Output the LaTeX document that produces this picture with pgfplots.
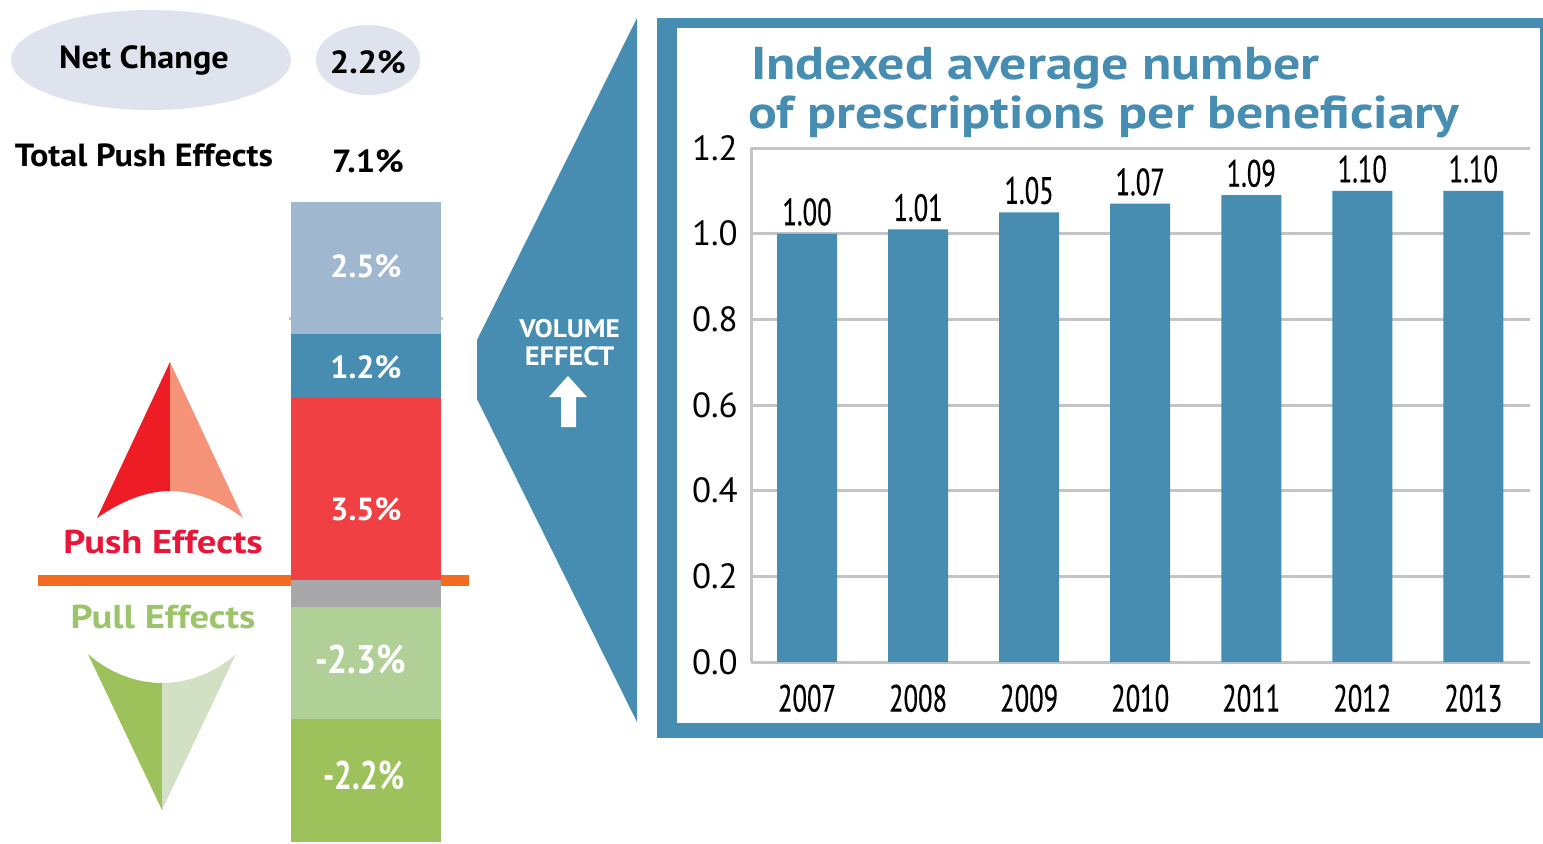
\documentclass[border=0pt]{standalone}
\usepackage{fontspec}
\usepackage{pgfplots}
\pgfplotsset{compat=1.18}
\usepackage{pgfplotstable}
\setmainfont{PT Sans}
\newfontfamily\condfont[FakeStretch=0.70,FakeBold=0.4]{PT Sans}
\newfontfamily\condafont[FakeStretch=0.88]{PT Sans}
\newfontfamily\condbfont[FakeStretch=0.78]{PT Sans}
\newfontfamily\widefont[FakeStretch=1.17]{PT Sans}
\newfontfamily\wideafont[FakeStretch=1.07]{PT Sans}
\definecolor{vblue}{HTML}{468DB1}
\definecolor{lblue}{HTML}{9FB8D0}
\definecolor{vred}{HTML}{F04044}
\definecolor{vgray}{HTML}{A8A8AA}
\definecolor{lgreen}{HTML}{B0D098}
\definecolor{vgreen}{HTML}{9DC25C}
\definecolor{vorange}{HTML}{F26B21}
\definecolor{ell}{HTML}{DFE3EE}
\definecolor{redA}{HTML}{EE1C25}
\definecolor{redB}{HTML}{F49377}
\definecolor{grnB}{HTML}{D2E0C4}
\definecolor{pushtxt}{HTML}{E8173A}
\definecolor{pulltxt}{HTML}{9CC46A}
\definecolor{gridc}{HTML}{C4C4C6}
\pgfplotstableread{
x y
0 1.00
1 1.01
2 1.05
3 1.07
4 1.09
5 1.10
6 1.10
}\rxdata
\newcommand{\fs}[1]{\fontsize{#1}{#1}\selectfont}
\begin{document}
\begin{tikzpicture}[x=0.5pt,y=-0.5pt,inner sep=0pt,outer sep=0pt]
\useasboundingbox (0,0) rectangle (1543,843);
% ellipses
\fill[ell] (151,60) ellipse [x radius=140,y radius=50];
\fill[ell] (368,60) ellipse [x radius=52,y radius=35];
\node[font=\wideafont\fs{16}\bfseries] at (144,60.5) {Net Change};
\node[font=\wideafont\fs{16}\bfseries] at (368,62) {2.2\%};
\node[font=\wideafont\fs{16}\bfseries] at (144,155) {Total Push Effects};
\node[font=\wideafont\fs{16}\bfseries] at (368,161) {7.1\%};
% baseline and stub
\fill[vorange] (38,575) rectangle (469,586);
\fill[gridc] (289,317) rectangle (443,320);
% push arrow
\fill[redA] (170,362) -- (97,518) .. controls (120,502) and (145,491) .. (170,491) -- cycle;
\fill[redB] (170,362) -- (243,518) .. controls (222,502) and (195,491) .. (170,491) -- cycle;
\fill[vgreen] (162,810) -- (88,654) .. controls (108,672) and (135,683) .. (162,683) -- cycle;
\fill[grnB] (162,810) -- (236,654) .. controls (216,672) and (189,683) .. (162,683) -- cycle;
\node[font=\widefont\fs{16.5}\bfseries,text=pushtxt] at (163,542) {Push Effects};
\node[font=\widefont\fs{16.5}\bfseries,text=pulltxt] at (163,617) {Pull Effects};
% funnel
\fill[vblue] (637,18) -- (637,722) -- (477,399) -- (477,340) -- cycle;
\node[font=\wideafont\fs{12.7}\bfseries,text=white] at (569.5,329) {VOLUME};
\node[font=\wideafont\fs{13.3}\bfseries,text=white] at (569.5,356) {EFFECT};
\fill[white] (568,376) -- (587,397) -- (576,397) -- (576,427) -- (561,427) -- (561,397) -- (549,397) -- cycle;
% frame
\fill[vblue] (657,18) rectangle (1543,738);
\fill[white] (677,28) rectangle (1540,723);
\node[anchor=base west,font=\widefont\fs{23}\bfseries,text=vblue] at (751,79) {Indexed average number};
\node[anchor=base west,font=\widefont\fs{23}\bfseries,text=vblue] at (748,128) {of prescriptions per beneficiary};
% positive stack
\begin{axis}[at={(145.5pt,-290pt)},anchor=south west,scale only axis,width=75pt,height=189pt,
  hide axis,xmin=-0.5,xmax=0.5,ymin=0,ymax=7.2,ybar stacked,bar width=75pt,clip=false]
\addplot[fill=vred,draw=none] coordinates {(0,3.47)};
\addplot[fill=vblue,draw=none] coordinates {(0,1.22)};
\addplot[fill=lblue,draw=none] coordinates {(0,2.51)};
\end{axis}
% negative stack
\begin{axis}[at={(145.5pt,-290pt)},anchor=north west,scale only axis,width=75pt,height=131pt,
  hide axis,xmin=-0.5,xmax=0.5,ymin=-4.98,ymax=0,ybar stacked,bar width=75pt,clip=false]
\addplot[fill=vgray,draw=none] coordinates {(0,-0.51)};
\addplot[fill=lgreen,draw=none] coordinates {(0,-2.13)};
\addplot[fill=vgreen,draw=none] coordinates {(0,-2.34)};
\end{axis}
\node[font=\fs{16}\bfseries,text=white] at (366,266) {2.5\%};
\node[font=\fs{16}\bfseries,text=white] at (366,367) {1.2\%};
\node[font=\fs{16}\bfseries,text=white] at (366,509) {3.5\%};
\node[font=\condafont\fs{20}\bfseries,text=white] at (360.5,659) {-2.3\%};
\node[font=\condbfont\fs{20}\bfseries,text=white] at (364,775) {-2.2\%};
% main chart
\begin{axis}[at={(375.5pt,-331pt)},anchor=south west,scale only axis,width=389.5pt,height=257pt,
  xmin=-0.5045,xmax=6.51,ymin=0,ymax=1.2,
  axis lines=left,axis line style={draw=gridc,line width=1.5pt,-},
  x axis line style={-},y axis line style={-},
  ybar,bar width=30pt,bar shift=0pt,
  ymajorgrids,grid style={draw=gridc,line width=1.5pt},
  tick style={draw=none},
  xtick=data,xticklabels={2007,2008,2009,2010,2011,2012,2013},
  ytick={0,0.2,0.4,0.6,0.8,1.0,1.2},
  yticklabel style={/pgf/number format/fixed,/pgf/number format/fixed zerofill,/pgf/number format/precision=1,/pgf/number format/assume math mode=true,font=\fs{17.5},anchor=east,xshift=-4.5pt},
  xticklabel style={font=\condfont\fs{19},yshift=-7pt,anchor=north},
  nodes near coords,
  every node near coord/.append style={font=\condfont\fs{19},anchor=south,yshift=4pt,/pgf/number format/fixed,/pgf/number format/fixed zerofill,/pgf/number format/precision=2,/pgf/number format/assume math mode=true},
  clip=false]
\addplot[fill=vblue,draw=none] table[x=x,y=y] {\rxdata};
\end{axis}
\end{tikzpicture}
\end{document}
